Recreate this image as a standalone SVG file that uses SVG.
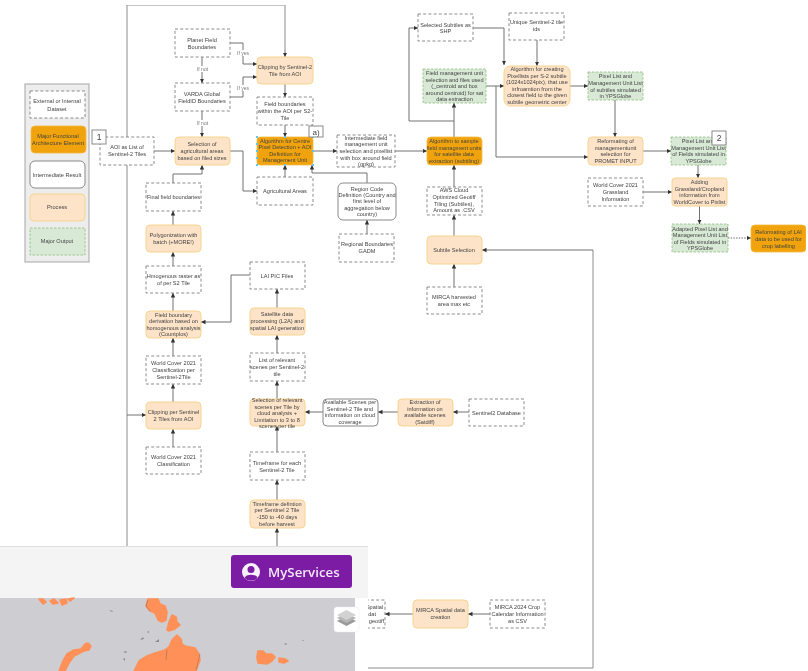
<svg xmlns="http://www.w3.org/2000/svg" width="808" height="671" viewBox="0 0 808 671">
<style>
text{font-family:"Liberation Sans",Arial,sans-serif;font-size:5.6px;fill:#444;text-anchor:middle}
.d{fill:#fff;stroke:#7f7f7f;stroke-width:.9;stroke-dasharray:3 2.2}
.p{fill:#fde3c8;stroke:#f8d38f;stroke-width:1}
.m{fill:#f0a30a;stroke:#f4b942;stroke-width:.8}
.i{fill:#fff;stroke:#8a8a8a;stroke-width:1}
.o{fill:#d8e9d6;stroke:#8fbc7e;stroke-width:.8;stroke-dasharray:2.5 1.5}
.b{fill:#fff;stroke:#8a8a8a;stroke-width:1}
.c{fill:none;stroke:#707070;stroke-width:1;marker-end:url(#a)}
.t{fill:none;stroke:#8c8c8c;stroke-width:1}
.l{fill:#fff;stroke:none}
.g{fill:#777;font-size:5px}
.h{fill:#5fc4ee}
.isl{fill:#ff9159;stroke:#ff9159;stroke-width:1.6;stroke-linejoin:round}
.ln{fill:none;stroke:#8a6a5a;stroke-width:.5}
.sp{fill:#8a8a92}
</style>
<defs>
<marker id="a" markerUnits="userSpaceOnUse" markerWidth="5" markerHeight="5" refX="4.5" refY="2.5" orient="auto"><path d="M0 .3L4.5 2.5L0 4.7z" fill="#333"/></marker>
<filter id="soft" x="0" y="0" width="100%" height="100%"><feGaussianBlur stdDeviation="0.28"/></filter>
</defs>
<rect width="808" height="671" fill="#fff"/>
<g filter="url(#soft)">
<g id="connectors">
<path class="t" d="M127 137V5H285V50"/><path class="c" d="M285 50V57"/>
<path class="t" d="M127 165V546"/><path class="c" d="M127 415H146"/>
<path class="c" d="M154 151H175"/>
<path class="c" d="M202 57V83"/><path class="c" d="M202 111V137"/>
<path class="c" d="M230 43H243V64H257"/><path class="c" d="M230 97H243V77H257"/>
<path class="c" d="M230 151H243V191H257"/>
<path class="c" d="M173 183V174H202V165"/>
<path class="c" d="M173 225V211"/><path class="c" d="M173 266V252"/><path class="c" d="M173 311V293"/><path class="c" d="M173 356V338"/><path class="c" d="M173 402V384"/><path class="c" d="M173 447V429"/>
<path class="c" d="M250 275H231V322H201"/>
<path class="c" d="M277 308V289"/><path class="c" d="M277 353V335"/><path class="c" d="M277 399V381"/><path class="c" d="M277 452V426"/><path class="c" d="M277 500V480"/><path class="c" d="M277 546V528"/>
<path class="c" d="M323 412H305"/><path class="c" d="M398 412H378"/><path class="c" d="M469 412H453"/>
<path class="c" d="M285 84V97"/><path class="c" d="M285 125V137"/><path class="c" d="M285 177V165"/>
<path class="c" d="M367 183V173H312V165"/><path class="c" d="M367 234V220"/>
<path class="c" d="M313 151H337"/><path class="c" d="M395 151H427"/>
<path class="c" d="M454 187V165"/><path class="c" d="M454 236V215"/><path class="c" d="M454 287V264"/>
<path class="c" d="M454 137V103"/><path class="c" d="M454 121H409V28H418"/>
<path class="c" d="M473 28H504V65"/><path class="c" d="M537 40V66"/>
<path class="c" d="M486 86H504"/><path class="c" d="M496 86V157H588"/>
<path class="c" d="M570 86H588"/><path class="c" d="M615 100V137"/><path class="c" d="M643 151H671"/>
<path class="c" d="M698 165V178"/><path class="c" d="M643 192H672"/><path class="c" d="M699.500 206V224"/>
<path class="c" d="M728 238H751" stroke-dasharray="1.500 1.200"/>
<path class="t" d="M593 250V668H368"/><path class="c" d="M593 250H482"/>
<path class="c" d="M413 614H385"/><path class="c" d="M490 614H468"/>
</g>
<g id="legend"><rect x="25" y="84" width="64" height="178" fill="#ededed" stroke="#a6a6a6" stroke-width="1"/>
<rect class="d" x="30" y="91" width="55" height="27"/><text x="57" y="103">External or Internal</text><text x="57" y="110.500">Dataset</text>
<rect class="m" x="31" y="126" width="55" height="27" rx="4"/><text x="58" y="137.500">Major Functional</text><text x="58" y="145">Architecture Element</text>
<rect class="i" x="30" y="161" width="55" height="27" rx="5"/><text x="57" y="176.500">Intermediate Result</text>
<rect class="p" x="30" y="194" width="55" height="27" rx="4"/><text x="57" y="209">Process</text>
<rect class="o" x="30" y="228" width="55" height="27"/><text x="57" y="242.500">Major Output</text></g>
<g id="aoi"><rect class="d" x="100" y="137" width="54" height="28"/><text x="127" y="149">AOI as List of</text><text x="127" y="156">Sentinel-2 Tiles</text></g>
<g id="badge1"><rect class="b" x="92" y="130" width="14" height="14"/><text x="99" y="140" style="font-size:8.500px">1</text></g>
<g id="planet"><rect class="d" x="175" y="29" width="55" height="28"/><text x="202" y="41.500">Planet Field</text><text x="202" y="48.500">Boundaries</text></g>
<g id="varda"><rect class="d" x="175" y="83" width="55" height="28"/><text x="202" y="95.500">VARDA Global</text><text x="202" y="102.500">FieldID Boundaries</text></g>
<g id="labels"><rect class="l" x="236" y="50" width="14" height="6"/><text class="g" x="243" y="55">If yes</text><rect class="l" x="236" y="85" width="14" height="6"/><text class="g" x="243" y="90">If yes</text><rect class="l" x="196" y="66" width="13" height="6"/><text class="g" x="202.500" y="71">If not</text><rect class="l" x="196" y="120" width="13" height="6"/><text class="g" x="202.500" y="125">If not</text></g>
<g id="selection"><rect class="p" x="175" y="137" width="55" height="28" rx="4"/><text x="202" y="146">Selection of</text><text x="202" y="152.500">agricultural areas</text><text x="202" y="159.500">based on filed sizes</text></g>
<g id="final"><rect class="d" x="146" y="183" width="55" height="28"/><text x="173.500" y="199">Final field boundaries</text></g>
<g id="poly"><rect class="p" x="146" y="225" width="55" height="27" rx="4"/><text x="173.500" y="237">Polygonization with</text><text x="173.500" y="244">batch (+MORE!)</text></g>
<g id="raster"><rect class="d" x="146" y="266" width="55" height="27"/><text x="173.500" y="278">Hmogenous raster as</text><text x="173.500" y="285">of per S2 Tile</text></g>
<g id="derivation"><rect class="p" x="146" y="311" width="55" height="27" rx="4"/><text x="173.500" y="316.500">Field boundary</text><text x="173.500" y="323">derivation based on</text><text x="173.500" y="329.500">homogenous analysis</text><text x="173.500" y="336">(Countplos)</text></g>
<g id="wc-per"><rect class="d" x="146" y="356" width="55" height="28"/><text x="173.500" y="365">World Cover 2021</text><text x="173.500" y="371.500">Classification per</text><text x="173.500" y="378.500">Sentinel-2Tile</text></g>
<g id="clip-per"><rect class="p" x="146" y="402" width="55" height="27" rx="4"/><text x="173.500" y="413.500">Clipping per Sentinel</text><text x="173.500" y="420.500">2 Tiles from AOI</text></g>
<g id="wc"><rect class="d" x="146" y="447" width="55" height="27"/><text x="173.500" y="459">World Cover 2021</text><text x="173.500" y="466">Classification</text></g>
<g id="lai-files"><rect class="d" x="250" y="262" width="55" height="27"/><text x="277" y="277.500">LAI PIC Files</text></g>
<g id="satellite"><rect class="p" x="250" y="308" width="55" height="27" rx="4"/><text x="277" y="316">Satellite data</text><text x="277" y="323">processing (L2A) and</text><text x="277" y="330">spatial LAI generation</text></g>
<g id="list"><rect class="d" x="250" y="353" width="55" height="28"/><text x="277" y="362">List of relevant</text><text x="277" y="368.500">scenes per Sentinel-2</text><text x="277" y="375.500">tile</text></g>
<g id="sel-scenes"><rect class="p" x="250" y="399" width="55" height="27" rx="4"/><text x="277" y="401.500">Selection of relevant</text><text x="277" y="408.500">scenes per Tile by</text><text x="277" y="415">cloud analysis +</text><text x="277" y="421.500">Limitation to 3 to 8</text><text x="277" y="428">scenes per tile</text></g>
<g id="timeframe"><rect class="d" x="250" y="452" width="55" height="28"/><text x="277" y="464.500">Timeframe for each</text><text x="277" y="471.500">Sentinel-2 Tile</text></g>
<g id="timedef"><rect class="p" x="250" y="500" width="55" height="28" rx="4"/><text x="277" y="506">Timeframe defintion</text><text x="277" y="512">per Sentinel 2 Tile</text><text x="277" y="519">-150 to -40 days</text><text x="277" y="526">before harvest</text></g>
<g id="available"><rect class="i" x="323" y="399" width="55" height="27" rx="4"/><text x="350" y="404">Available Scenes per</text><text x="350" y="410.500">Sentinel-2 Tile and</text><text x="350" y="417">information on cloud</text><text x="350" y="424">coverage</text></g>
<g id="extraction"><rect class="p" x="398" y="399" width="55" height="27" rx="4"/><text x="425" y="404">Extraction of</text><text x="425" y="410.500">information on</text><text x="425" y="417">available scenes</text><text x="425" y="424">(Satdiff)</text></g>
<g id="s2db"><rect class="d" x="469" y="399" width="55" height="27"/><text x="496.500" y="414.500">Sentinel2 Database</text></g>
<g id="clip-s2"><rect class="p" x="257" y="57" width="56" height="27" rx="4"/><text x="285" y="68.500">Clipping by Sentinel-2</text><text x="285" y="75.500">Tile from AOI</text></g>
<g id="within"><rect class="d" x="257" y="97" width="56" height="28"/><text x="285" y="106">Field boundaries</text><text x="285" y="112.500">within the AOI per S2-</text><text x="285" y="119.500">Tile</text></g>
<g id="centre"><rect class="m" x="257" y="137" width="56" height="28" rx="3"/><text x="285" y="143">Algorithm for Centre</text><text x="285" y="149">Pixel Detection + AOI</text><text x="285" y="155.500">Definition for</text><text x="285" y="162">Management Unit</text>
<path class="h" d="M256 136h2v2h-2zM256 143h2v2h-2zM256 150h2v2h-2zM256 157h2v2h-2zM256 164h2v2h-2zM312 136h2v2h-2zM312 150h2v2h-2zM312 164h2v2h-2zM284 136h2v2h-2zM284 164h2v2h-2z"/></g>
<g id="badge-a"><rect class="b" x="309" y="126" width="14" height="11"/><text x="316" y="134.500" style="font-size:8px">a)</text></g>
<g id="agri"><rect class="d" x="257" y="177" width="56" height="28"/><text x="285" y="192.500">Agricultural Areas</text></g>
<g id="intermediate"><rect class="d" x="337" y="135" width="58" height="32"/><text x="366" y="139.500">Intermediate field</text><text x="366" y="146">management unit</text><text x="366" y="152.500">selection and pixellist</text><text x="366" y="159.500">with box around field</text><text x="366" y="166">(gpkg)</text></g>
<g id="region"><rect class="i" x="338" y="183" width="58" height="37" rx="5"/><text x="367" y="190.500">Region Code</text><text x="367" y="196.500">Definition (Country and</text><text x="367" y="203">first level of</text><text x="367" y="209.500">aggregation below</text><text x="367" y="216">country)</text></g>
<g id="gadm"><rect class="d" x="339" y="234" width="55" height="28"/><text x="367" y="246">Regional Boundaries</text><text x="367" y="253">GADM</text></g>
<g id="sample"><rect class="m" x="427" y="137" width="55" height="28" rx="4"/><text x="454" y="143">Algorithm to sample</text><text x="454" y="149.500">field managment units</text><text x="454" y="156">for satellite data</text><text x="454" y="162.500">extraction (subtiling)</text></g>
<g id="aws"><rect class="d" x="427" y="187" width="55" height="28"/><text x="454" y="192">AWS Cloud</text><text x="454" y="198.500">Optimized Geotiff</text><text x="454" y="205.500">Tiling (Subtiles),</text><text x="454" y="212">Amount as .CSV</text></g>
<g id="subtile"><rect class="p" x="427" y="236" width="55" height="28" rx="4"/><text x="454" y="251.500">Subtile Selection</text></g>
<g id="mirca-h"><rect class="d" x="427" y="287" width="55" height="27"/><text x="454" y="299">MIRCA harvested</text><text x="454" y="306">area max etc</text></g>
<g id="field-mgmt"><rect class="o" x="423" y="69" width="63" height="34"/><text x="454.500" y="75">Field management unit</text><text x="454.500" y="81.500">selection and files used</text><text x="454.500" y="88">(_centroid and box</text><text x="454.500" y="94.500">around centroid) for sat</text><text x="454.500" y="101">data extraction</text></g>
<g id="selected"><rect class="d" x="418" y="14" width="55" height="27"/><text x="445.500" y="26.500">Selected Subtiles as</text><text x="445.500" y="33">SHP</text></g>
<g id="unique"><rect class="d" x="509" y="13" width="55" height="27"/><text x="536.500" y="24">Unique Sentinel-2 tile</text><text x="536.500" y="31">ids</text></g>
<g id="pixellists"><rect class="p" x="504" y="66" width="66" height="40" rx="6"/><text x="537" y="71">Algorithm for creating</text><text x="537" y="77.500">Pixellists per S-2 subtile</text><text x="537" y="84">(1024x1024pix), that use</text><text x="537" y="90.500">infroamtion from the</text><text x="537" y="97">closest field to the given</text><text x="537" y="103.500">subtile geometric center</text></g>
<g id="pl-subtiles"><rect class="o" x="588" y="72" width="55" height="28"/><text x="615.500" y="78">Pixel List and</text><text x="615.500" y="84.500">Management Unit List</text><text x="615.500" y="91.500">of subtiles simulated</text><text x="615.500" y="98">in YPSGlobe</text></g>
<g id="reformat"><rect class="p" x="588" y="137" width="55" height="28" rx="4"/><text x="615.500" y="143">Reformating of</text><text x="615.500" y="149.500">managementunit</text><text x="615.500" y="156">selection for</text><text x="615.500" y="163">PROMET INPUT</text></g>
<g id="pl-fields"><rect class="o" x="671" y="137" width="55" height="28"/><text x="698.500" y="143">Pixel List and</text><text x="698.500" y="149.500">Management Unit List</text><text x="698.500" y="156">of Fields simulated in</text><text x="698.500" y="163">YPSGlobe</text></g>
<g id="badge2"><rect class="b" x="712" y="131" width="14" height="14"/><text x="719" y="141" style="font-size:8.500px">2</text></g>
<g id="grassland"><rect class="d" x="588" y="178" width="55" height="28"/><text x="615.500" y="187">World Cover 2021</text><text x="615.500" y="193.500">Grassland</text><text x="615.500" y="200.500">Information</text></g>
<g id="adding"><rect class="p" x="672" y="178" width="55" height="28" rx="3"/><text x="699.500" y="184">Adding</text><text x="699.500" y="190.500">Grassland/Cropland</text><text x="699.500" y="197">information from</text><text x="699.500" y="204">WorldCover to Pixlist</text></g>
<g id="adapted"><rect class="o" x="672" y="224" width="56" height="28"/><text x="700" y="231">Adapted Pixel List and</text><text x="700" y="237">Management Unit List</text><text x="700" y="243.500">of Fields simulated in</text><text x="700" y="250">YPSGlobe</text></g>
<g id="reformat-lai"><rect class="m" x="751" y="225" width="55" height="27" rx="4"/><text x="778.500" y="234">Reformating of LAI</text><text x="778.500" y="240.500">data to be used for</text><text x="778.500" y="247.500">crop labelling</text></g>
<g id="mirca-sp"><rect class="p" x="413" y="600" width="55" height="28" rx="4"/><text x="440.500" y="612">MIRCA Spatial data</text><text x="440.500" y="619">creation</text></g>
<g id="mirca-24"><rect class="d" x="490" y="600" width="55" height="28"/><text x="517.500" y="609">MIRCA 2024 Crop</text><text x="517.500" y="616">Calendar Information</text><text x="517.500" y="623">as CSV</text></g>
<g id="mirca-out"><rect class="d" x="345" y="600" width="40" height="28"/><text x="383" y="609" style="text-anchor:end">Spatial</text><text x="376" y="616" style="text-anchor:end">dat</text><text x="384" y="623" style="text-anchor:end">geotiff</text></g>
<g id="overlay">
<rect x="0" y="546" width="368" height="125" fill="#fff"/>
<rect x="0" y="546" width="368" height="52" fill="#f4f4f4"/>
<rect x="0" y="546" width="368" height="1" fill="#dedede"/>
<rect x="0" y="598" width="355" height="73" fill="#cdcdd2"/>
<rect x="231" y="555" width="121" height="33" rx="3" fill="#7b1ca5"/>
<circle cx="251" cy="572" r="9" fill="#f8f0fb"/><circle cx="251" cy="569.500" r="3.500" fill="#7b1ca5"/><path d="M244.500 578c1-4.500 12-4.500 13 0a9 9 0 0 1-13 0z" fill="#7b1ca5"/>
<text x="268" y="577" style="font-family:'Open Sans',sans-serif;font-size:13.300px;font-weight:600;fill:#f3e8f8;text-anchor:start">MyServices</text>
<path class="isl" d="M148 599L158 599L160 604L165 606L167 612L166 620L162 622L158 620L155 613L150 611L146 606Z"/>
<path class="isl" d="M172 615L176 617L177 622L180 625L175 629L169 631L167 630L169 622Z"/>
<path class="isl" d="M177 635L181 639L182 644L185 646L195 648L199 654L200 660L196 671L134 671L139 661L147 656L155 653L165 650L169 647L172 640Z"/>
<path class="isl" d="M88 643L91 646L89 650L84 651L74 656L69 663L65 671L59 671L63 661L67 654L74 650L81 649L85 644Z"/>
<path class="isl" d="M258 651L263 651L266 654L272 654L275 657L272 661L267 664L258 663L257 657Z"/>
<path class="isl" d="M279 658L285 659L288 661L284 663L279 662Z"/>
<path class="isl" d="M39 599L43 599L46 602L43 604ZM50 601L54 599L58 603L53 604ZM60 600L66 599L67 603L62 605ZM68 599L74 598L70 601Z"/>
<path class="ln" d="M167 650L166 660M148 600L146 606L150 611M200 654L196 670"/>
<path class="sp" d="M109 610l4 1-1 1zM140 640l3-3 1 2zM155 642l4-3v3zM123 652l4-1-1 2zM123 659l2-1v3zM284 644l3-1-1 2zM302 640l2 0-1 1zM147 632l2-1v2z"/>
<rect x="334" y="607" width="25" height="25" rx="3" fill="#fff" stroke="#e8e8e8" stroke-width=".5"/>
<path d="M337 621l9.500-5 9.500 5-9.500 5z" fill="#9a9a9a"/><path d="M337 618l9.500-5 9.500 5-9.500 5z" fill="#b5b5b5"/><path d="M337 615l9.500-5 9.500 5-9.500 5z" fill="#d2d2d2"/>
</g>
</g>
</svg>
